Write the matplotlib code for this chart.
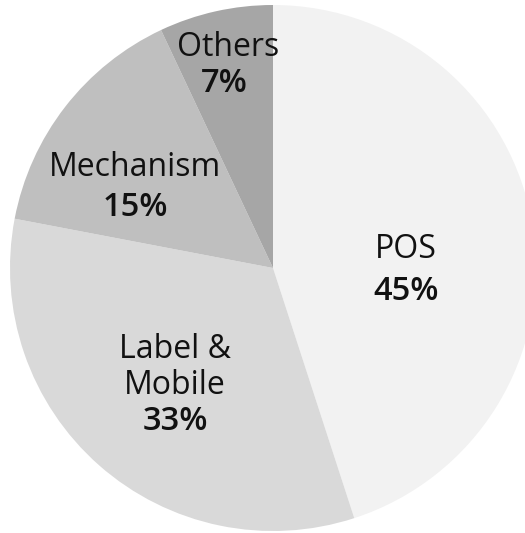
import matplotlib
matplotlib.use("Agg")
import matplotlib.pyplot as plt

categories = ["POS", "Label &\nMobile", "Mechanism", "Others"]
values = [45, 33, 15, 7]
colors = ["#f2f2f2", "#d9d9d9", "#bfbfbf", "#a6a6a6"]

W, H = 525, 533
cx, cy, R = 273, 268, 263

fig = plt.figure(figsize=(W / 100, H / 100), dpi=100)
ax = fig.add_axes([(cx - R) / W, (H - cy - R) / H, 2 * R / W, 2 * R / H])
ax.pie(values, colors=colors, startangle=90, counterclock=False,
       radius=1, wedgeprops=dict(linewidth=0))
ax.set_xlim(-1, 1)
ax.set_ylim(-1, 1)
ax.set_aspect("equal")
ax.axis("off")

def d(px, py):
    return (px - cx) / R, (cy - py) / R

name_pos = [(406, 249), (175, 368), (135, 168), (228, 47)]
pct_pos = [(406, 291), (175, 421), (135, 208), (224, 84)]

font = ["Open Sans", "DejaVu Sans"]
for name, v, npos, ppos in zip(categories, values, name_pos, pct_pos):
    x, y = d(*npos)
    ax.text(x, y, name, ha="center", va="center", fontsize=23,
            family=font, linespacing=1.12, color="#111111", fontweight="normal")
    x, y = d(*ppos)
    ax.text(x, y, f"{v}%", ha="center", va="center", fontsize=23.5,
            family=font, fontweight="semibold", color="#111111")

fig.savefig("out.png", dpi=100)
